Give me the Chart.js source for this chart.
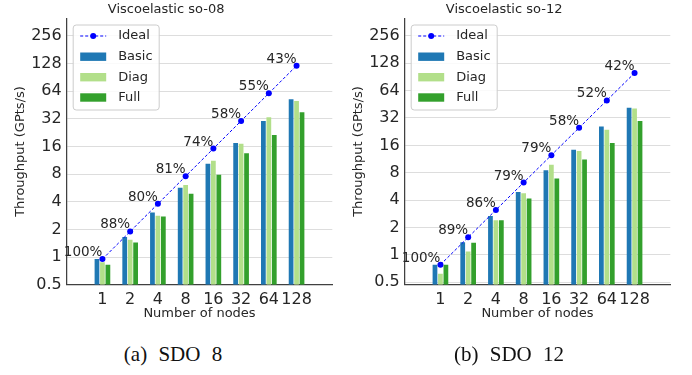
<!DOCTYPE html>
<html><head><meta charset="utf-8">
<script src="https://cdn.jsdelivr.net/npm/chart.js@4/dist/chart.umd.min.js"></script>
<style>
html,body{margin:0;padding:0;background:#fff;}
#wrap{position:relative;width:692px;height:375px;overflow:hidden;background:#fff;}
canvas{position:absolute;top:0;}
.cap{position:absolute;top:344px;font-family:"Liberation Serif",serif;font-size:21px;line-height:21px;color:#111;white-space:pre;word-spacing:6px;transform:translateX(-50%);}
</style></head><body>
<div id="wrap">
<canvas id="c1" width="346" height="330" style="left:0"></canvas>
<canvas id="c2" width="346" height="330" style="left:338px"></canvas>
<div class="cap" style="left:173px">(a) SDO 8</div>
<div class="cap" style="left:509px">(b) SDO 12</div>
</div>
<script>
const nodeLabels = ['1','2','4','8','16','32','64','128'];
const yTickValues = [0.5,1,2,4,8,16,32,64,128,256];
const yTickLabels = ['0.5','1','2','4','8','16','32','64','128','256'];
const seriesNames = ['Ideal','Basic','Diag','Full'];

const so08Ideal = [0.95,1.9,3.8,7.6,15.2,30.4,60.8,121.6];
const so08Basic = [0.95,1.65,3.05,5.7,10.4,17.5,30.4,52.4];
const so08Diag  = [0.88,1.54,2.81,6.1,11.2,17.1,33.3,50.2];
const so08Full  = [0.825,1.44,2.76,4.88,7.86,13.5,21.4,37.8];
const so08Eff   = ['100%','88%','80%','81%','74%','58%','55%','43%'];

const so12Ideal = [0.78,1.56,3.12,6.24,12.48,24.96,49.92,99.84];
const so12Basic = [0.78,1.38,2.68,4.9,8.5,14.3,25.8,41.5];
const so12Diag  = [0.62,1.09,2.4,4.76,9.8,13.9,23.8,40.7];
const so12Full  = [0.78,1.36,2.41,4.17,6.9,11.2,17.0,29.7];
const so12Eff   = ['100%','89%','86%','79%','79%','58%','52%','42%'];

const COL_IDEAL = '#0000ff', COL_BASIC = '#1f78b4', COL_DIAG = '#b2df8a', COL_FULL = '#33a02c';
const FONT = '"DejaVu Sans", sans-serif';
const TXT = '#262626';

function pts(arr){ return arr.map((v,i)=>({x:i,y:v})); }

function makeChart(id, title, ideal, basic, diag, full, eff, yMin){
  const overlay = {
    id:'overlay',
    afterDatasetsDraw(chart){
      const ctx = chart.ctx, ca = chart.chartArea;
      const meta = chart.getDatasetMeta(0);
      ctx.save();
      ctx.font = '13.5px ' + FONT;
      ctx.fillStyle = TXT;
      ctx.textAlign = 'right';
      ctx.textBaseline = 'alphabetic';
      meta.data.forEach((p,i)=>{ ctx.fillText(eff[i], p.x, p.y - 3); });
      const lx = ca.left + 6.5, ly = ca.top + 6.7, lw = 86, lh = 85;
      ctx.beginPath();
      ctx.roundRect(lx, ly, lw, lh, 3);
      ctx.fillStyle = 'rgba(255,255,255,0.85)';
      ctx.fill();
      ctx.strokeStyle = '#cccccc';
      ctx.lineWidth = 1;
      ctx.stroke();
      const cols = [COL_IDEAL, COL_BASIC, COL_DIAG, COL_FULL];
      const rowY = [11, 31.7, 52.2, 72.5];
      ctx.font = '13px ' + FONT;
      ctx.textAlign = 'left';
      ctx.textBaseline = 'middle';
      seriesNames.forEach((name,i)=>{
        const y = ly + rowY[i];
        const hx = lx + 7;
        if (i === 0){
          ctx.strokeStyle = COL_IDEAL; ctx.lineWidth = 1; ctx.setLineDash([3,2]);
          ctx.beginPath(); ctx.moveTo(hx, y); ctx.lineTo(hx+26, y); ctx.stroke();
          ctx.setLineDash([]);
          ctx.fillStyle = COL_IDEAL;
          ctx.beginPath(); ctx.arc(hx+13, y, 3, 0, Math.PI*2); ctx.fill();
        } else {
          ctx.fillStyle = cols[i];
          ctx.fillRect(hx, y-4.2, 26, 8.4);
        }
        ctx.fillStyle = TXT;
        ctx.fillText(name, lx + 45, y);
      });
      ctx.restore();
    }
  };
  return new Chart(document.getElementById(id), {
    data: {
      datasets: [
        {type:'line', label:seriesNames[0], data:pts(ideal), borderColor:COL_IDEAL, backgroundColor:COL_IDEAL,
         borderWidth:1, borderDash:[3,2], pointRadius:3, pointBackgroundColor:COL_IDEAL, pointBorderWidth:0, fill:false},
        {type:'bar', label:seriesNames[1], data:pts(basic), backgroundColor:COL_BASIC},
        {type:'bar', label:seriesNames[2], data:pts(diag), backgroundColor:COL_DIAG},
        {type:'bar', label:seriesNames[3], data:pts(full), backgroundColor:COL_FULL}
      ]
    },
    options: {
      responsive:false, animation:false, devicePixelRatio:1,
      layout:{padding:{left:0,right:13.7,top:0,bottom:0}},
      datasets:{bar:{categoryPercentage:0.59, barPercentage:0.87, borderWidth:0}},
      plugins:{
        legend:{display:false}, tooltip:{enabled:false},
        title:{display:true, text:title, color:TXT, font:{family:FONT, size:13, weight:'normal'}, padding:{top:2,bottom:0.7}}
      },
      scales:{
        x:{type:'linear', min:-0.69, max:7.69,
           afterBuildTicks(s){ s.ticks = nodeLabels.map((_,i)=>({value:i})); },
           afterFit(s){ s.height = 330 - 284.7; },
           ticks:{callback:(v)=>nodeLabels[v], color:TXT, font:{family:FONT,size:16}, padding:6, maxRotation:0, autoSkip:false},
           grid:{display:false, drawTicks:false},
           border:{display:true, color:'#404040', width:1.25},
           title:{display:true, text:'Number of nodes', color:TXT, font:{family:FONT,size:13}, padding:{top:0,bottom:8.9}}
        },
        y:{type:'logarithmic', min:yMin, max:Math.pow(2,8.64),
           afterBuildTicks(s){ s.ticks = yTickValues.map(v=>({value:v})); },
           afterFit(s){ s.width = 66.7; },
           ticks:{callback:(v)=>{const k=yTickValues.indexOf(v); return k>=0?yTickLabels[k]:'';}, color:TXT, font:{family:FONT,size:16}, padding:5, autoSkip:false},
           grid:{color:'#dddddd', lineWidth:1, drawTicks:false},
           border:{display:true, color:'#404040', width:1.25},
           title:{display:true, text:'Throughput (GPts/s)', color:TXT, font:{family:FONT,size:13}, padding:{top:13.2,bottom:0}}
        }
      }
    },
    plugins:[overlay]
  });
}

makeChart('c1', 'Viscoelastic so-08', so08Ideal, so08Basic, so08Diag, so08Full, so08Eff, 0.5);
makeChart('c2', 'Viscoelastic so-12', so12Ideal, so12Basic, so12Diag, so12Full, so12Eff, 0.47);
</script>
</body></html>
